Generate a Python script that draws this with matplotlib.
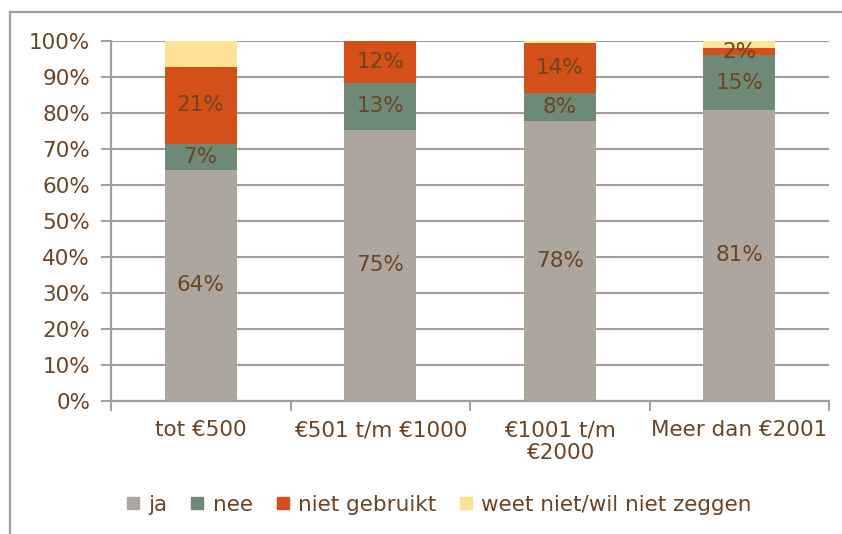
import matplotlib.pyplot as plt
import numpy as np
from matplotlib.lines import Line2D

categories = ["tot €500", "€501 t/m €1000", "€1001 t/m\n€2000", "Meer dan €2001"]
series = ["ja", "nee", "niet gebruikt", "weet niet/wil niet zeggen"]
ja = [64.1, 75.3, 77.8, 80.8]
nee = [7.3, 12.9, 7.6, 15.1]
niet = [21.4, 11.6, 13.9, 2.1]
weet = [7.2, 0.2, 0.7, 2.0]
lab_ja = ["64%", "75%", "78%", "81%"]
lab_nee = ["7%", "13%", "8%", "15%"]
lab_niet = ["21%", "12%", "14%", "2%"]

colors = ["#ADA69F", "#6E8A76", "#D45018", "#FDE296"]
txt = "#6B4423"
grid_c = "#A69D98"
fs = 15.5

plt.rcParams['font.family'] = ['DejaVu Sans']
fig = plt.figure(figsize=(8.42, 5.34), dpi=100)
ax = fig.add_axes([111/842, 1-400.7/534, (829-111)/842, 360/534])

x = np.arange(len(categories))
bottom = np.zeros(len(categories))
for vals, col, labs in [(ja, colors[0], lab_ja), (nee, colors[1], lab_nee),
                        (niet, colors[2], lab_niet), (weet, colors[3], None)]:
    v = np.array(vals)
    ax.bar(x, v, 0.4, bottom=bottom, color=col, zorder=3)
    if labs:
        for xi, b, h, l in zip(x, bottom, v, labs):
            ax.text(xi, b + h/2, l, ha="center", va="center", fontsize=fs, color=txt, zorder=4)
    bottom += v

ax.set_xlim(-0.5, len(categories) - 0.5)
ax.set_ylim(0, 100)
ax.set_yticks(np.arange(0, 101, 10))
ax.set_yticklabels([f"{t}%" for t in range(0, 101, 10)])
ax.yaxis.grid(True, color=grid_c, linewidth=1.5, zorder=0)
ax.set_xticks(x)
ax.set_xticklabels(categories)
ax.set_xticks(np.arange(-0.5, len(categories), 1), minor=True)
ax.tick_params(axis="x", which="major", length=0, pad=14, labelsize=fs, labelcolor=txt)
ax.tick_params(axis="x", which="minor", length=7, width=1.4, color=grid_c)
ax.tick_params(axis="y", length=7, width=1.4, color=grid_c, pad=8, labelsize=fs, labelcolor=txt)
for s in ["top", "right"]:
    ax.spines[s].set_visible(False)
for s in ["left", "bottom"]:
    ax.spines[s].set_color(grid_c)
    ax.spines[s].set_linewidth(1.6)

handles = [Line2D([], [], marker="s", linestyle="", markersize=9, color=c) for c in colors]
fig.legend(handles, series, loc="center", bbox_to_anchor=(437/842, 1-505/534), ncol=4,
           frameon=False, fontsize=fs, labelcolor=txt, handletextpad=0.2,
           columnspacing=0.9, handlelength=1.0)

# outer frame
fig.add_artist(Line2D([10/842, 10/842], [0, 1-12/534], color=grid_c, linewidth=1.6))
fig.add_artist(Line2D([10/842, 1], [1-12/534, 1-12/534], color=grid_c, linewidth=1.6))

fig.savefig("out.png", dpi=100)
